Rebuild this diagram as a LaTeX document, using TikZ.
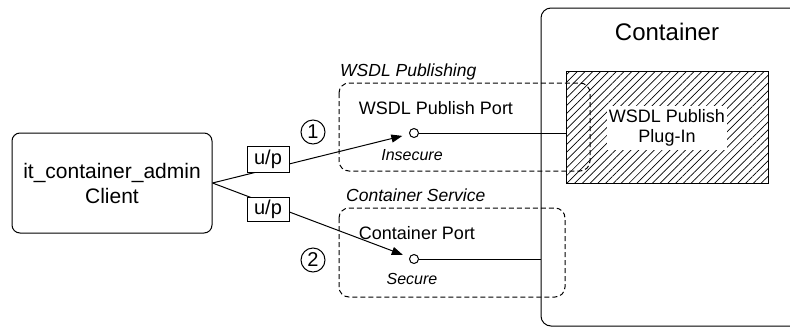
\documentclass[tikz,border=0pt]{standalone}
\usepackage{fontspec}
\setmainfont{Liberation Sans}
\usetikzlibrary{patterns.meta,arrows.meta}
\tikzset{
  solidbox/.style={draw, line width=1pt, rounded corners=9pt, inner sep=0pt},
  groupbox/.style={draw, line width=1pt, dash pattern=on 5pt off 3pt, rounded corners=10pt},
  grouplabel/.style={anchor=west, inner sep=0pt, font=\fontsize{17.5}{20}\selectfont\itshape},
  porttext/.style={inner sep=0pt, font=\fontsize{18}{21}\selectfont},
  secnote/.style={inner sep=0pt, font=\fontsize{16}{19}\selectfont\itshape},
  portdot/.style={draw, circle, line width=1pt, fill=white, minimum size=9pt, inner sep=0pt},
  stepnum/.style={draw, circle, line width=1pt, minimum size=24pt, inner sep=0pt, font=\fontsize{20}{22}\selectfont},
  upbox/.style={draw, fill=white, line width=1pt, minimum width=42pt, inner sep=0pt, font=\fontsize{20}{22}\selectfont},
  conn/.style={line width=1pt},
  arr/.style={conn, -{Triangle[length=11pt,width=8pt]}}
}
\begin{document}
\begin{tikzpicture}[x=1pt,y=-1pt]
\useasboundingbox (0,0) rectangle (790,330);
\begin{scope}
\clip (0,0) rectangle (790,330);
% container
\node[solidbox, rounded corners=10pt, minimum width=279pt, minimum height=318pt] (container) at (680.5,167) {};
\node[inner sep=0pt, font=\fontsize{24}{26}\selectfont] (containerlbl) at (667,32) {Container};
% plug-in
\node[draw, line width=1pt, minimum width=202pt, minimum height=112pt, inner sep=0pt,
      pattern={Lines[angle=45,distance=5.5pt,line width=0.7pt]}] (plugin) at (667,127) {};
\node[fill=white, inner xsep=2pt, inner ysep=3pt, align=center, font=\fontsize{18}{20.5}\selectfont] (plugintxt) at (667,128) {WSDL Publish\\Plug-In};
% groups
\draw[groupbox] (339,83) rectangle (590,171);
\node[grouplabel] (wsdlgrp) at (340,72) {WSDL Publishing};
\draw[groupbox] (339,208) rectangle (565,297);
\node[grouplabel] (csgrp) at (346,195) {Container Service};
\end{scope}
% client
\node[solidbox, rounded corners=8pt, minimum width=200pt, minimum height=100pt, align=center,
      font=\fontsize{21}{25}\selectfont] (client) at (112,183) {it\_container\_admin\\Client};
% ports
\node[portdot] (port1) at (414,133) {};
\node[portdot] (port2) at (414,259) {};
\node[porttext] (p1txt) at (436,108) {WSDL Publish Port};
\node[porttext] (p2txt) at (417,233) {Container Port};
\node[secnote] (insec) at (412,155) {Insecure};
\node[secnote] (sec) at (412,279) {Secure};
% step numbers
\node[stepnum] (n1) at (313,132) {1};
\node[stepnum] (n2) at (313,260) {2};
% connectors
\draw[arr, shorten >=12pt] (client.east) -- (port1.center);
\draw[arr, shorten >=12pt] (client.east) -- (port2.center);
\draw[conn] (port1.east) -- (port1.east -| plugin.west);
\draw[conn] (port2.east) -- (port2.east -| container.west);
% u/p labels
\node[upbox, minimum height=26pt] (up1) at (268,159) {u/p};
\node[upbox, minimum height=24pt] (up2) at (268,209) {u/p};
\end{tikzpicture}
\end{document}
